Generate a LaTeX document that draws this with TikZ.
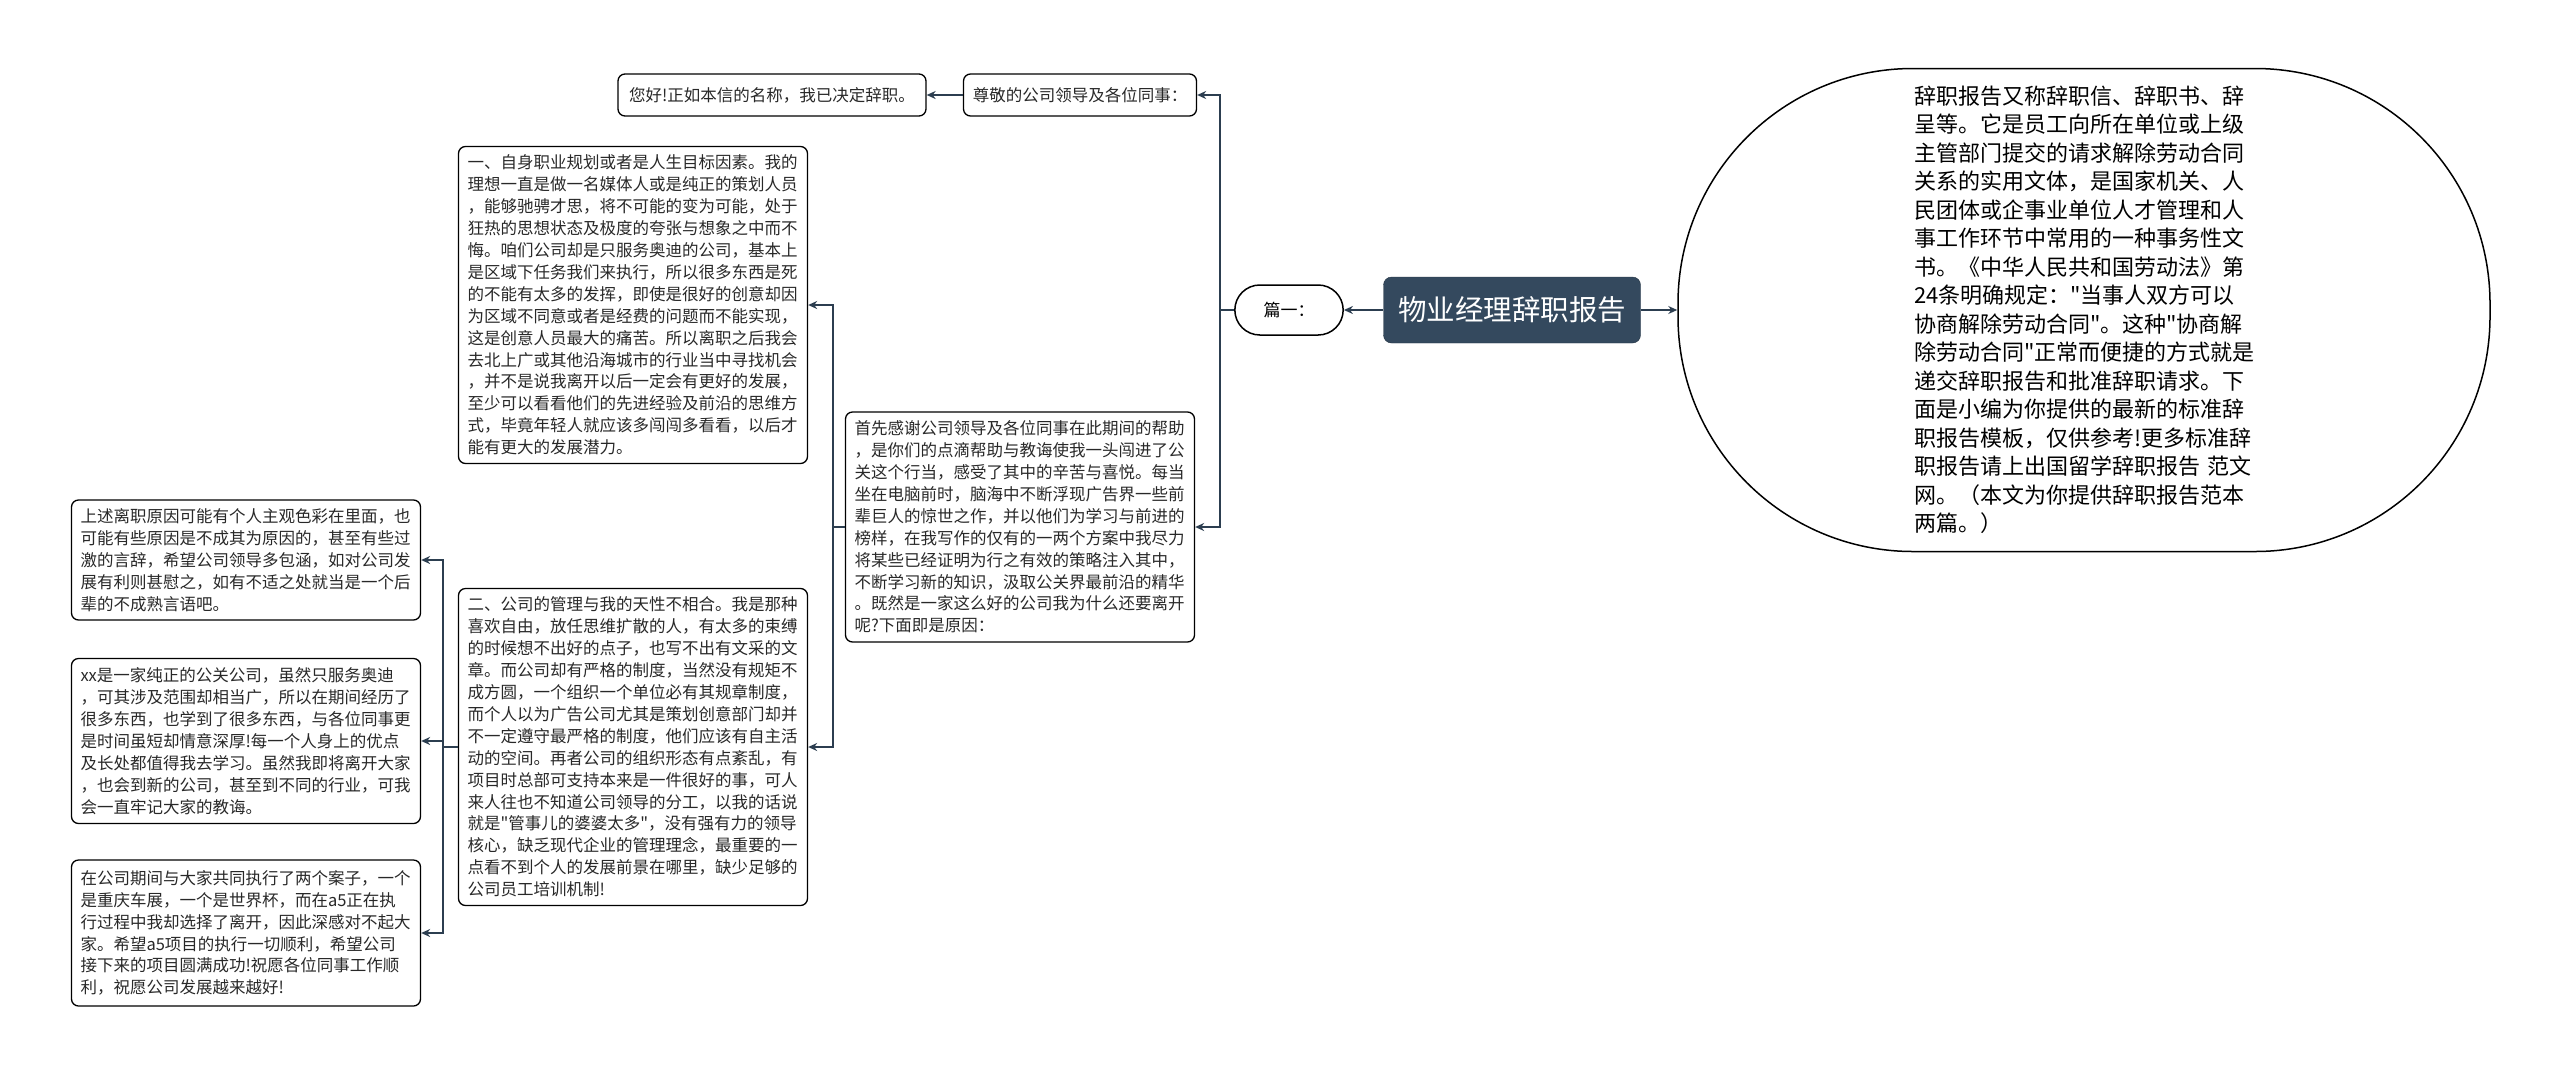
\documentclass[tikz,border=0pt]{standalone}
\usepackage{fontspec}
\setmainfont{Noto Sans CJK SC}
\newfontfamily\cjkfont{Noto Sans CJK SC}
\usepackage{tikz}
\usetikzlibrary{shapes.misc}
\usetikzlibrary{arrows.meta}

\definecolor{rootfill}{RGB}{52,73,94}
\definecolor{linkcol}{RGB}{44,62,80}
\definecolor{boxtext}{RGB}{40,40,40}

\begin{document}
\begin{tikzpicture}[x=1pt, y=-1pt,
  box/.style={draw=black, line width=1.3pt, rounded corners=7pt, align=left, text=boxtext,
    inner xsep=9pt, inner ysep=4pt, font=\cjkfont\fontsize{16.5}{21.9}\selectfont},
  para/.style={box, text width=331pt},
  link/.style={draw=linkcol, line width=2pt, -{Stealth[length=9pt,width=8pt]}}]
  \useasboundingbox (0,0) rectangle (2560,1077);

  \node[fill=rootfill, draw=rootfill!70!black, rounded corners=8pt, text=white,
    minimum width=257pt, minimum height=66pt, font=\cjkfont\fontsize{28.5}{30}\selectfont]
    (root) at (1512, 310) {物业经理辞职报告};
  \node[draw=black, rounded rectangle, line width=1.5pt, minimum width=115pt,
    minimum height=50pt, font=\cjkfont\fontsize{17}{20}\selectfont] (pian) at (1289, 310) {篇一：};
  \node[draw=black, rectangle, rounded corners=235pt, line width=1.5pt, minimum width=812pt,
    minimum height=483pt, align=left, text width=340pt, font=\cjkfont\fontsize{22}{28.5}\selectfont]
    (intro) at (2084, 310) {辞职报告又称辞职信、辞职书、辞\\呈等。它是员工向所在单位或上级\\主管部门提交的请求解除劳动合同\\关系的实用文体，是国家机关、人\\民团体或企事业单位人才管理和人\\事工作环节中常用的一种事务性文\\书。《中华人民共和国劳动法》第\\24条明确规定："当事人双方可以\\协商解除劳动合同"。这种"协商解\\除劳动合同"正常而便捷的方式就是\\递交辞职报告和批准辞职请求。下\\面是小编为你提供的最新的标准辞\\职报告模板，仅供参考!更多标准辞\\职报告请上出国留学辞职报告 范文\\网。（本文为你提供辞职报告范本\\两篇。）};

  \node[box, minimum width=233pt, minimum height=42pt] (zunjing) at (1080, 95) {尊敬的公司领导及各位同事：};
  \node[box, minimum width=308pt, minimum height=42pt] (nihao) at (772, 95) {您好!正如本信的名称，我已决定辞职。};

  \node[para, minimum height=230pt] (shouxian) at (1020, 527) {首先感谢公司领导及各位同事在此期间的帮助\\，是你们的点滴帮助与教诲使我一头闯进了公\\关这个行当，感受了其中的辛苦与喜悦。每当\\坐在电脑前时，脑海中不断浮现广告界一些前\\辈巨人的惊世之作，并以他们为学习与前进的\\榜样，在我写作的仅有的一两个方案中我尽力\\将某些已经证明为行之有效的策略注入其中，\\不断学习新的知识，汲取公关界最前沿的精华\\。既然是一家这么好的公司我为什么还要离开\\呢?下面即是原因：};

  \node[para, minimum height=317pt] (yuanyin1) at (633, 305) {一、自身职业规划或者是人生目标因素。我的\\理想一直是做一名媒体人或是纯正的策划人员\\，能够驰骋才思，将不可能的变为可能，处于\\狂热的思想状态及极度的夸张与想象之中而不\\悔。咱们公司却是只服务奥迪的公司，基本上\\是区域下任务我们来执行，所以很多东西是死\\的不能有太多的发挥，即使是很好的创意却因\\为区域不同意或者是经费的问题而不能实现，\\这是创意人员最大的痛苦。所以离职之后我会\\去北上广或其他沿海城市的行业当中寻找机会\\，并不是说我离开以后一定会有更好的发展，\\至少可以看看他们的先进经验及前沿的思维方\\式，毕竟年轻人就应该多闯闯多看看，以后才\\能有更大的发展潜力。};
  \node[para, minimum height=317pt] (yuanyin2) at (633, 747) {二、公司的管理与我的天性不相合。我是那种\\喜欢自由，放任思维扩散的人，有太多的束缚\\的时候想不出好的点子，也写不出有文采的文\\章。而公司却有严格的制度，当然没有规矩不\\成方圆，一个组织一个单位必有其规章制度，\\而个人以为广告公司尤其是策划创意部门却并\\不一定遵守最严格的制度，他们应该有自主活\\动的空间。再者公司的组织形态有点紊乱，有\\项目时总部可支持本来是一件很好的事，可人\\来人往也不知道公司领导的分工，以我的话说\\就是"管事儿的婆婆太多"，没有强有力的领导\\核心，缺乏现代企业的管理理念，最重要的一\\点看不到个人的发展前景在哪里，缺少足够的\\公司员工培训机制!};

  \node[para, minimum height=120pt] (houbei) at (246, 560) {上述离职原因可能有个人主观色彩在里面，也\\可能有些原因是不成其为原因的，甚至有些过\\激的言辞，希望公司领导多包涵，如对公司发\\展有利则甚慰之，如有不适之处就当是一个后\\辈的不成熟言语吧。};
  \node[para, minimum height=165pt] (xuexi) at (246, 741) {xx是一家纯正的公关公司，虽然只服务奥迪\\，可其涉及范围却相当广，所以在期间经历了\\很多东西，也学到了很多东西，与各位同事更\\是时间虽短却情意深厚!每一个人身上的优点\\及长处都值得我去学习。虽然我即将离开大家\\，也会到新的公司，甚至到不同的行业，可我\\会一直牢记大家的教诲。};
  \node[para, minimum height=146pt] (zhufu) at (246, 933) {在公司期间与大家共同执行了两个案子，一个\\是重庆车展，一个是世界杯，而在a5正在执\\行过程中我却选择了离开，因此深感对不起大\\家。希望a5项目的执行一切顺利，希望公司\\接下来的项目圆满成功!祝愿各位同事工作顺\\利，祝愿公司发展越来越好!};

  \draw[link] (root.west) -- (pian.east);
  \draw[link] (root.east) -- (intro.west);
  \draw[link] (pian.west) -- ++(-14,0) |- (zunjing.east);
  \draw[link] (pian.west) -- ++(-14,0) |- (shouxian.east);
  \draw[link] (zunjing.west) -- (nihao.east);
  \draw[link] (shouxian.west) -- ++(-12,0) |- (yuanyin1.east);
  \draw[link] (shouxian.west) -- ++(-12,0) |- (yuanyin2.east);
  \draw[link] (yuanyin2.west) -- ++(-15,0) |- (houbei.east);
  \draw[link] (yuanyin2.west) -- ++(-15,0) |- (xuexi.east);
  \draw[link] (yuanyin2.west) -- ++(-15,0) |- (zhufu.east);
\end{tikzpicture}
\end{document}
